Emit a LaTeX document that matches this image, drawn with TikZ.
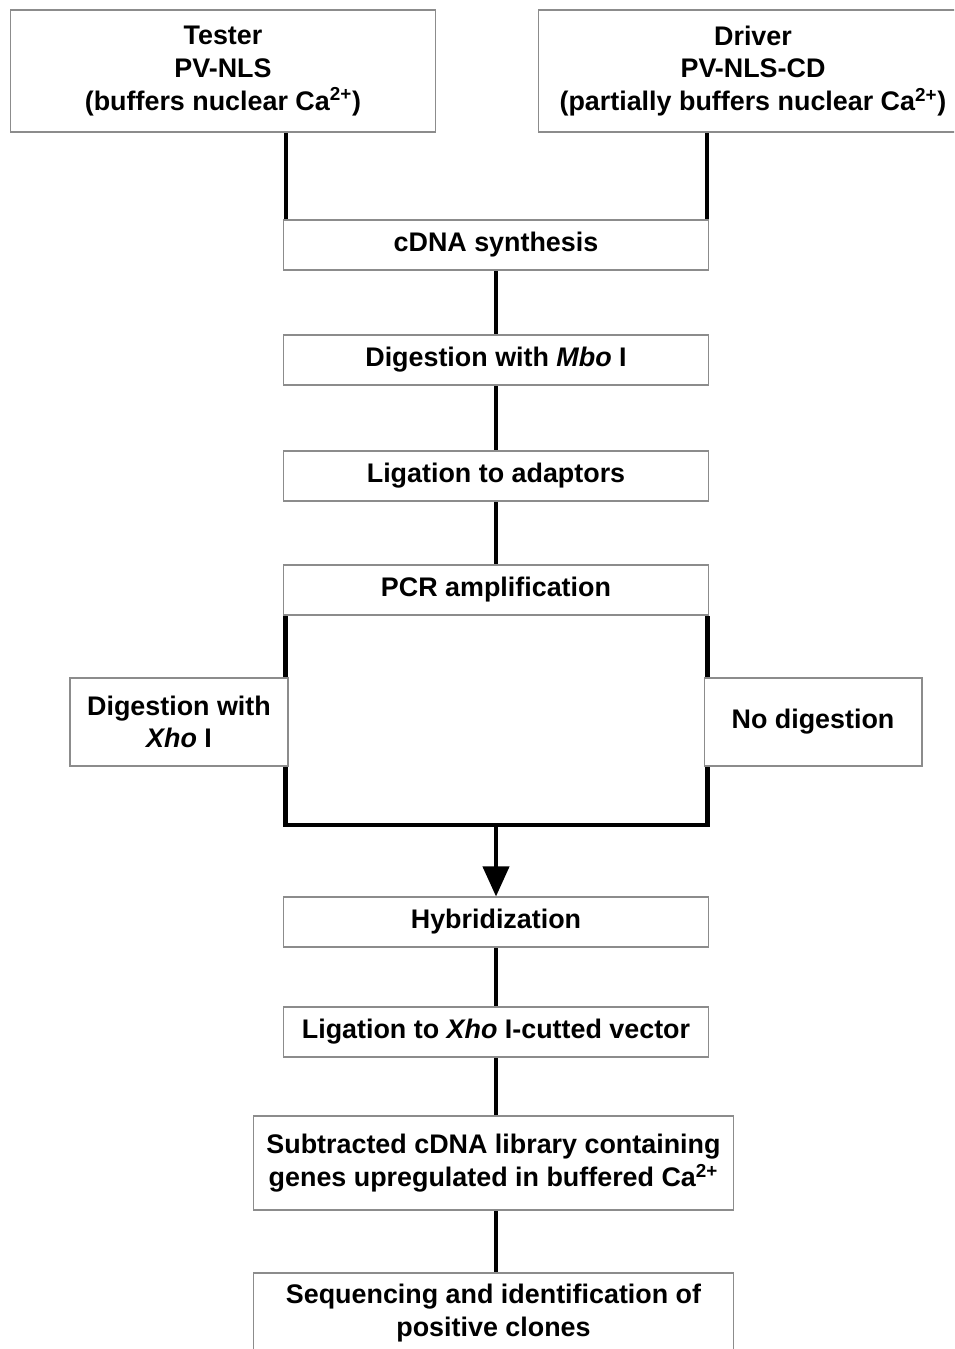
\documentclass[tikz,border=0pt]{standalone}
\usepackage{fontspec}
\setmainfont{Liberation Sans}
\usetikzlibrary{arrows.meta,backgrounds,calc}

\begin{document}
\begin{tikzpicture}[x=0.02cm,y=-0.02cm,
		stepbox/.style={draw=black!45,line width=0.6pt,fill=white,inner sep=0pt,align=center,
			font=\fontsize{15.3}{18.6}\selectfont\bfseries},
		link/.style={line width=0.08cm,black}]
		\clip (0,0) rectangle (954,1349);
		\node[stepbox,minimum width=8.52cm,minimum height=2.44cm] (tester) at (223,71) {Tester\\PV-NLS\\(buffers nuclear Ca\textsuperscript{2+})};
		\node[stepbox,minimum width=8.6cm,minimum height=2.44cm] (driver) at (753,71) {Driver\\PV-NLS-CD\\(partially buffers nuclear Ca\textsuperscript{2+})};
		\node[stepbox,minimum width=8.52cm,minimum height=1cm] (cdna) at (496,245) {cDNA synthesis};
		\node[stepbox,minimum width=8.52cm,minimum height=1cm] (mbo) at (496,360) {Digestion with \textit{Mbo} I};
		\node[stepbox,minimum width=8.52cm,minimum height=1cm] (adapt) at (496,476) {Ligation to adaptors};
		\node[stepbox,minimum width=8.52cm,minimum height=1cm] (pcr) at (496,590) {PCR amplification};
		\node[stepbox,minimum width=4.36cm,minimum height=1.76cm] (xhodig) at (179,722) {Digestion with\\\textit{Xho} I};
		\node[stepbox,minimum width=4.36cm,minimum height=1.76cm] (nodig) at (813,722) {No digestion};
		\node[stepbox,minimum width=8.52cm,minimum height=1cm] (hyb) at (496,922) {Hybridization};
		\node[stepbox,minimum width=8.52cm,minimum height=1cm] (vector) at (496,1032) {Ligation to \textit{Xho} I-cutted vector};
		\node[stepbox,minimum width=9.62cm,minimum height=1.88cm] (library) at (493.5,1163) {Subtracted cDNA library containing\\genes upregulated in buffered Ca\textsuperscript{2+}};
		\node[stepbox,minimum width=9.62cm,minimum height=1.6cm] (seq) at (493.5,1313) {Sequencing and identification of\\positive clones};
		% free ends of the connectors
		\coordinate (tl) at ($(cdna.north west)+(3,0)$);
		\coordinate (tr) at ($(cdna.north east)+(-2,0)$);
		\coordinate (bl) at ($(pcr.south west)+(3,0)$);
		\coordinate (br) at ($(pcr.south east)+(-2,0)$);
		\coordinate (join) at (496,825);
		\begin{pgfonlayer}{background}
			\draw[link] (tester.south -| tl) -- (tl);
			\draw[link] (driver.south -| tr) -- (tr);
			\draw[link] (cdna) -- (mbo);
			\draw[link] (mbo) -- (adapt);
			\draw[link] (adapt) -- (pcr);
			\draw[link,line width=0.09cm] (bl) |- (join) -| (br);
			\draw[link,-{Triangle[length=0.6cm,width=0.52cm]}] (join) -- (hyb.north);
			\draw[link] (hyb) -- (vector);
			\draw[link] (vector.south) -- (vector.south |- library.north);
			\draw[link] (library.south -| vector.south) -- (seq.north -| vector.south);
		\end{pgfonlayer}
	\end{tikzpicture}
\end{document}
